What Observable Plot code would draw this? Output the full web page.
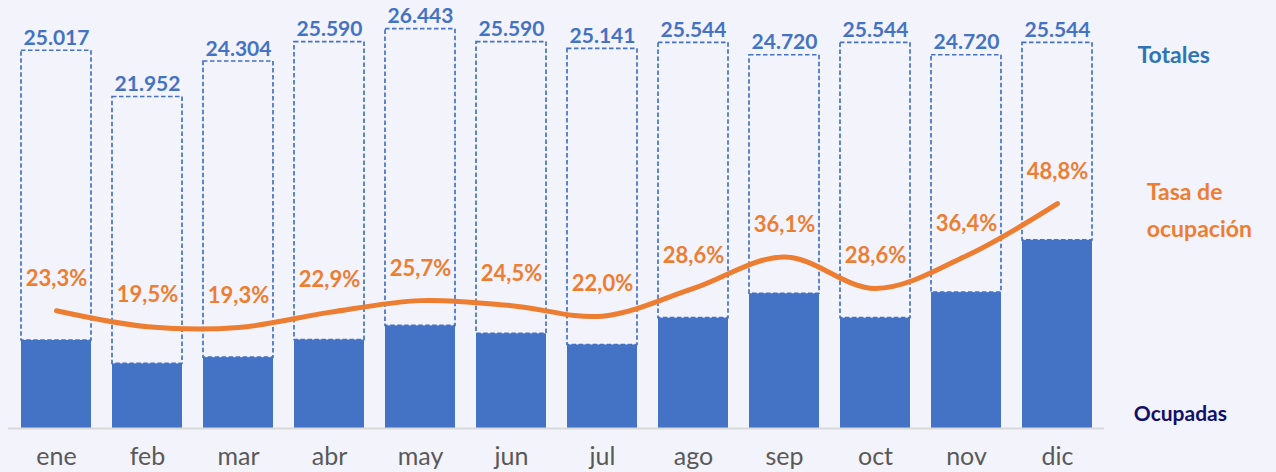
<!DOCTYPE html>
<html>
<head>
<meta charset="utf-8">
<script src="https://cdn.jsdelivr.net/npm/d3@7"></script>
<script src="https://cdn.jsdelivr.net/npm/@observablehq/plot@0.6"></script>
<style>
  html, body { margin: 0; padding: 0; background: #F3F3FC; }
</style>
</head>
<body>
<div id="chart"></div>
<script>
const months = ["ene","feb","mar","abr","may","jun","jul","ago","sep","oct","nov","dic"];
const totales = [25017, 21952, 24304, 25590, 26443, 25590, 25141, 25544, 24720, 25544, 24720, 25544];
const ocupadas = [5829, 4281, 4691, 5860, 6796, 6270, 5531, 7306, 8924, 7306, 8998, 12465];
const tasas = [23.3, 19.5, 19.3, 22.9, 25.7, 24.5, 22.0, 28.6, 36.1, 28.6, 36.4, 48.8];

const data = months.map((m, i) => ({mes: m, total: totales[i], ocupadas: ocupadas[i], tasa: tasas[i]}));

// secondary axis (rate, %) expressed in primary units
const rateY = d3.scaleLinear().domain([0, 100]).range([1324, 1324 + 27800]);

const loc = d3.formatLocale({decimal: ",", thousands: ".", grouping: [3], currency: ["", ""]});
const fmtNum = loc.format(",d");
const fmtPct = d => loc.format(".1f")(d) + "%";

const plot = Plot.plot({
  width: 1276,
  height: 472,
  marginLeft: 8,
  marginRight: 172,
  marginTop: 5.2,
  marginBottom: 44,
  x: {domain: months, paddingInner: 0.233, paddingOuter: 0.1165, label: null},
  y: {domain: [0, 28000], axis: null},
  style: {background: "#F3F3FC", fontFamily: "Lato, sans-serif"},
  marks: [
    Plot.barY(data, {x: "mes", y1: "ocupadas", y2: "total", fill: "none", stroke: "#4472C4", strokeWidth: 1.7, strokeDasharray: "4.5,2.5"}),
    Plot.barY(data, {x: "mes", y: "ocupadas", fill: "#4472C4"}),
    Plot.ruleY([0], {stroke: "#D9D9D9", strokeWidth: 2}),
    Plot.axisX({tickSize: 0, tickPadding: 19, fontSize: 25, fill: "#595959", label: null}),
    Plot.lineY(data, {x: "mes", y: d => rateY(d.tasa), stroke: "#ED7D31", strokeWidth: 5, curve: "catmull-rom", strokeLinecap: "round"}),
    Plot.text(data, {x: "mes", y: d => rateY(d.tasa), text: d => fmtPct(d.tasa), dy: -32, fill: "#ED7D31", fontWeight: "bold", fontSize: 22}),
    Plot.text(data, {x: "mes", y: "total", text: d => fmtNum(d.total), lineAnchor: "bottom", dy: -6, fill: "#4472C4", fontWeight: "bold", fontSize: 21}),
    Plot.text(["Totales"], {text: d => d, frameAnchor: "top-right", textAnchor: "start", lineAnchor: "middle", dx: 33, dy: 50, fill: "#2E75B6", fontWeight: "bold", fontSize: 23}),
    Plot.text(["Tasa de\nocupación"], {text: d => d, frameAnchor: "top-right", textAnchor: "start", lineAnchor: "middle", dx: 42.3, dy: 201.3, lineHeight: 1.6, fill: "#ED7D31", fontWeight: "bold", fontSize: 23}),
    Plot.text(["Ocupadas"], {text: d => d, frameAnchor: "top-right", textAnchor: "start", lineAnchor: "middle", dx: 29.3, dy: 408.8, fill: "#10106E", fontWeight: "bold", fontSize: 21})
  ]
});
document.getElementById("chart").appendChild(plot);
</script>
</body>
</html>
